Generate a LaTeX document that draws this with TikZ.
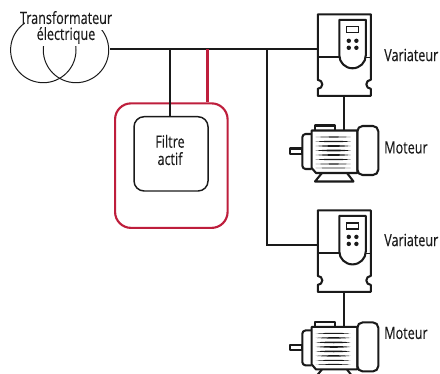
\documentclass[tikz,border=0pt]{standalone}
\usepackage{fontspec}
\setmainfont[FakeStretch=0.75,FakeBold=0.25]{Open Sans}
\definecolor{redc}{HTML}{BE1E3C}
\definecolor{inkc}{HTML}{1A1A1A}
\tikzset{
  wire/.style={line width=1.35pt,draw=inkc},
  redwire/.style={line width=1.6pt,draw=redc},
  thin outline/.style={line width=0.75pt,draw=inkc},
  label text/.style={font=\fontsize{12.6}{13.5}\selectfont,text=inkc,inner sep=0pt,align=center},
  pic outline/.style={line width=1.55pt,draw=inkc,line join=round},
  drive/.pic={
    \draw[pic outline] (0,0)--(53,0)--(53,65.5) arc[start angle=-90,end angle=-270,radius=4.5] -- (53,81.5)--(0,81.5)--(0,74.5)
       arc[start angle=90,end angle=-90,radius=4.5]--cycle;
    \draw[pic outline,fill=white] (21.5,5.5)--(48,5.5)--(48,41) arc[start angle=0,end angle=180,x radius=13.25,y radius=13]--cycle;
    \draw[pic outline] (0,43)--(21.5,43);
    \draw[line width=.6pt,draw=inkc] (48,43)--(53,43);
    \draw[line width=1pt,draw=inkc] (29,12.5) rectangle (40.5,18.5);
    \foreach \px in {31,38.6} \foreach \py in {26.5,33.5} \fill[inkc] (\px,\py) circle[radius=2.2];
    \coordinate (-in) at (0,35);
    \coordinate (-out) at (26.5,81.5);
  },
  motor/.pic={
    \draw[pic outline] (0,21.5) rectangle (12.3,27);
    \draw[pic outline,rounded corners=2.5pt] (21.7,7) -- (12.3,7) -- (12.3,42) -- (21.7,42);
    \draw[pic outline] (25,3.5) -- (25,-1.5) -- (45,-1.5) -- (45,3.5);
    \draw[pic outline] (32,46) -- (25,54.5) -- (63.5,54.5) -- (57,46);
    \draw[pic outline,fill=white] (21.7,3.5) -- (67.3,3.5) -- (67.3,46) -- (26,46) -- (21.7,41) -- cycle;
    \draw[pic outline,rounded corners=4pt] (67.3,-1) -- (88.3,-1) -- (88.3,48) -- (67.3,48) -- cycle;
    \foreach \fy/\fw in {10/1.2,14.5/1.6,19/1.9,23.5/2.0,28/1.9,32.5/1.6,37/1.2,41/1.0}
      \fill[inkc] (25.7,\fy) .. controls (38,\fy-\fw*.6) and (50,\fy-\fw*.6) .. (60.7,\fy)
                 .. controls (50,\fy+\fw*.6) and (38,\fy+\fw*.6) .. (25.7,\fy) -- cycle;
    \coordinate (-top) at (54.3,3.5);
  }
}
\begin{document}
\begin{tikzpicture}[x=0.75pt,y=-0.75pt]
\useasboundingbox (0,0) rectangle (440,374);
\clip (0,0) rectangle (440,374);
% transformer
\draw[thin outline] (43.3,50) circle[radius=32.7];
\draw[thin outline] (76,50) circle[radius=32.7];
\fill[white] (25,8) rectangle (114,30);
\fill[white] (32,30) rectangle (100,46.5);
\node[label text] (tr) at (66,27.5) {Transformateur\\[-1.5pt]électrique};
\coordinate (bus0) at (110,49.3);
\coordinate (busA) at (170,49.3);
\coordinate (busR) at (207.5,49.3);
\coordinate (busB) at (267,49.3);
% filter
\node[draw=redc,line width=1.6pt,rounded corners=12pt,minimum width=84.4pt,minimum height=93.4pt,inner sep=0pt,anchor=north west] (outer) at (114,102.3) {};
\node[draw=inkc,line width=1.1pt,rounded corners=7.5pt,minimum width=55.5pt,minimum height=55.7pt,inner sep=0pt,anchor=north west] (inner) at (133.3,116) {};
\node[label text] (filt) at (170,150) {Filtre\\[-.5pt]actif};
% drives and motors
\pic (v1) at (317.8,14.3) {drive};
\pic (v2) at (317.8,210.4) {drive};
\pic (m1) at (290,127) {motor};
\pic (m2) at (290,323.4) {motor};
% connectors
\draw[wire] (bus0) -- (v1-in);
\draw[wire] (busA) -- (inner.north -| busA);
\draw[redwire] (busR) -- (outer.north -| busR);
\draw[wire] (busB) |- (v2-in);
\draw[wire] (v1-out) -- (m1-top);
\draw[wire] (v2-out) -- (m2-top);
% labels
\node[label text,anchor=west] (l1) at (384,55) {Variateur};
\node[label text,anchor=west] (l2) at (384,147.5) {Moteur};
\node[label text,anchor=west] (l3) at (384,240) {Variateur};
\node[label text,anchor=west] (l4) at (384,333) {Moteur};
\end{tikzpicture}
\end{document}
